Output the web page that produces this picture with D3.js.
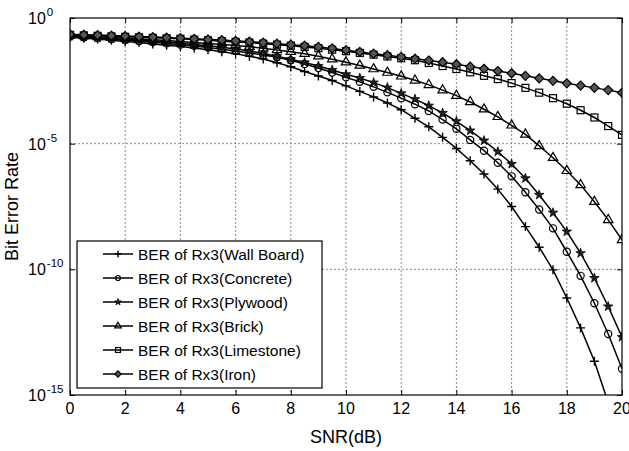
<!DOCTYPE html>
<meta charset="utf-8">
<style>
body { margin: 0; background: #fff; }
svg { font-family: "Liberation Sans", Arial, Helvetica, sans-serif; }
.grid line { stroke: #8a8a8a; stroke-dasharray: 2,2; }
.frame { fill: none; stroke: #000; stroke-width: 1.2; }
.series path.line { fill: none; stroke: #000; stroke-width: 1.5; }
</style>
<svg width="629" height="451"></svg>
<script src="https://d3js.org/d3.v7.min.js"></script>
<script>

// SNR in dB, one marker every 0.5 dB
var snr = [0, 0.5, 1, 1.5, 2, 2.5, 3, 3.5, 4, 4.5, 5, 5.5, 6, 6.5, 7, 7.5, 8, 8.5, 9, 9.5,
           10, 10.5, 11, 11.5, 12, 12.5, 13, 13.5, 14, 14.5, 15, 15.5, 16, 16.5, 17, 17.5, 18, 18.5, 19, 19.5, 20];

var wallBoard = [1.70e-1, 1.58e-1, 1.45e-1, 1.29e-1, 1.15e-1, 1.05e-1, 9.33e-2, 8.32e-2, 7.41e-2, 6.46e-2,
                 5.50e-2, 4.57e-2, 3.80e-2, 3.02e-2, 2.34e-2, 1.66e-2, 1.15e-2, 7.41e-3, 4.90e-3, 3.24e-3,
                 2.00e-3, 1.20e-3, 7.24e-4, 4.17e-4, 2.24e-4, 1.02e-4, 4.68e-5, 1.78e-5, 6.46e-6, 2.09e-6,
                 6.17e-7, 1.55e-7, 3.16e-8, 5.01e-9, 7.59e-10, 9.55e-11, 7.24e-12, 4.68e-13, 2.19e-14, 5.01e-16, 1.00e-17];

var concrete = [1.82e-1, 1.70e-1, 1.58e-1, 1.45e-1, 1.32e-1, 1.20e-1, 1.10e-1, 9.77e-2, 8.71e-2, 7.76e-2,
                6.76e-2, 5.75e-2, 4.90e-2, 4.07e-2, 3.39e-2, 2.75e-2, 2.09e-2, 1.48e-2, 1.02e-2, 6.76e-3,
                4.37e-3, 2.88e-3, 1.82e-3, 1.10e-3, 6.46e-4, 3.72e-4, 2.00e-4, 9.12e-5, 3.89e-5, 1.41e-5,
                5.25e-6, 1.74e-6, 5.01e-7, 1.17e-7, 2.40e-8, 4.27e-9, 5.01e-10, 5.50e-11, 4.47e-12, 2.69e-13, 1.10e-14];

var plywood = [1.91e-1, 1.78e-1, 1.66e-1, 1.55e-1, 1.41e-1, 1.32e-1, 1.20e-1, 1.10e-1, 1.00e-1, 8.91e-2,
               7.94e-2, 6.92e-2, 5.89e-2, 4.90e-2, 3.89e-2, 3.02e-2, 2.29e-2, 1.70e-2, 1.23e-2, 8.51e-3,
               5.75e-3, 4.07e-3, 2.69e-3, 1.70e-3, 1.00e-3, 5.89e-4, 3.24e-4, 1.66e-4, 7.76e-5, 3.31e-5,
               1.32e-5, 4.79e-6, 1.55e-6, 4.17e-7, 9.12e-8, 1.78e-8, 3.16e-9, 4.37e-10, 4.47e-11, 3.31e-12, 2.00e-13];

var brick = [2.00e-1, 1.91e-1, 1.78e-1, 1.66e-1, 1.55e-1, 1.45e-1, 1.35e-1, 1.26e-1, 1.17e-1, 1.07e-1,
             9.77e-2, 8.91e-2, 8.13e-2, 7.24e-2, 6.31e-2, 5.37e-2, 4.57e-2, 3.80e-2, 3.02e-2, 2.29e-2,
             1.74e-2, 1.29e-2, 9.33e-3, 6.76e-3, 4.79e-3, 3.31e-3, 2.19e-3, 1.35e-3, 8.13e-4, 4.57e-4,
             2.34e-4, 1.17e-4, 5.37e-5, 2.34e-5, 8.13e-6, 2.75e-6, 8.32e-7, 2.29e-7, 4.90e-8, 9.33e-9, 1.48e-9];

var limestone = [2.14e-1, 2.04e-1, 1.95e-1, 1.86e-1, 1.78e-1, 1.70e-1, 1.62e-1, 1.55e-1, 1.48e-1, 1.38e-1,
                 1.29e-1, 1.20e-1, 1.12e-1, 1.05e-1, 9.55e-2, 8.71e-2, 7.94e-2, 7.08e-2, 6.31e-2, 5.50e-2,
                 4.79e-2, 4.07e-2, 3.47e-2, 2.95e-2, 2.51e-2, 2.09e-2, 1.62e-2, 1.23e-2, 9.33e-3, 6.92e-3,
                 5.01e-3, 3.72e-3, 2.57e-3, 1.66e-3, 1.07e-3, 6.46e-4, 3.89e-4, 2.14e-4, 1.10e-4, 5.01e-5, 2.24e-5];

var iron = [2.24e-1, 2.14e-1, 2.09e-1, 2.00e-1, 1.91e-1, 1.82e-1, 1.74e-1, 1.66e-1, 1.58e-1, 1.48e-1,
            1.41e-1, 1.32e-1, 1.23e-1, 1.15e-1, 1.05e-1, 9.55e-2, 8.71e-2, 7.94e-2, 7.08e-2, 6.17e-2,
            5.25e-2, 4.47e-2, 3.80e-2, 3.31e-2, 2.82e-2, 2.40e-2, 2.04e-2, 1.74e-2, 1.45e-2, 1.17e-2,
            9.55e-3, 7.76e-3, 6.31e-3, 5.01e-3, 3.98e-3, 3.16e-3, 2.51e-3, 2.04e-3, 1.66e-3, 1.35e-3, 1.07e-3];

var seriesNames = ["BER of Rx3(Wall Board)", "BER of Rx3(Concrete)", "BER of Rx3(Plywood)",
                   "BER of Rx3(Brick)", "BER of Rx3(Limestone)", "BER of Rx3(Iron)"];
var seriesMarkers = ["plus", "circle", "star", "triangle", "square", "diamond"];
var seriesValues = [wallBoard, concrete, plywood, brick, limestone, iron];

var xTicks = [0, 2, 4, 6, 8, 10, 12, 14, 16, 18, 20];
var yTicks = [1, 1e-5, 1e-10, 1e-15];
var yTickExp = ["0", "-5", "-10", "-15"];

var svg = d3.select("svg"),
    margin = {top: 18, right: 7, bottom: 56, left: 70},
    width = +svg.attr("width"),
    height = +svg.attr("height");

var x = d3.scaleLinear()
    .domain([0, 20])
    .range([margin.left, width - margin.right]);

var y = d3.scaleLog()
    .domain([1e-15, 1])
    .range([height - margin.bottom, margin.top]);

var series = seriesNames.map(function(name, i) {
  return {
    name: name,
    marker: seriesMarkers[i],
    points: snr.map(function(s, j) { return {snr: s, ber: seriesValues[i][j]}; })
  };
});

svg.append("defs").append("clipPath")
    .attr("id", "plot-clip")
  .append("rect")
    .attr("x", x(0))
    .attr("y", y(1))
    .attr("width", x(20) - x(0))
    .attr("height", y(1e-15) - y(1));

// grid
var grid = svg.append("g").attr("class", "grid");
grid.selectAll(".gx")
  .data(xTicks.slice(1, -1))
  .enter().append("line")
    .attr("x1", function(d) { return x(d); })
    .attr("x2", function(d) { return x(d); })
    .attr("y1", y(1))
    .attr("y2", y(1e-15));
grid.selectAll(".gy")
  .data(yTicks.slice(1, -1))
  .enter().append("line")
    .attr("x1", x(0))
    .attr("x2", x(20))
    .attr("y1", function(d) { return y(d); })
    .attr("y2", function(d) { return y(d); });

// inward ticks on all four sides, labels drawn separately
function noLabels(g) { g.selectAll("text").remove(); g.select(".domain").remove(); }

svg.append("g")
    .attr("transform", "translate(0," + y(1e-15) + ")")
    .call(d3.axisBottom(x).tickValues(xTicks).tickSize(-5))
    .call(noLabels);
svg.append("g")
    .attr("transform", "translate(0," + y(1) + ")")
    .call(d3.axisTop(x).tickValues(xTicks).tickSize(-5))
    .call(noLabels);
svg.append("g")
    .attr("transform", "translate(" + x(0) + ",0)")
    .call(d3.axisLeft(y).tickValues(yTicks).tickSize(-5))
    .call(noLabels);
svg.append("g")
    .attr("transform", "translate(" + x(20) + ",0)")
    .call(d3.axisRight(y).tickValues(yTicks).tickSize(-5))
    .call(noLabels);

// markers
function drawMarker(sel, type, k) {
  var s = k || 1;
  if (type === "plus") {
    sel.append("path").attr("d", "M" + (-4.5 * s) + ",0H" + (4.5 * s) + "M0," + (-4.5 * s) + "V" + (4.5 * s))
      .attr("stroke", "#000").attr("stroke-width", 1.4).attr("fill", "none");
  } else if (type === "circle") {
    sel.append("circle").attr("r", 3.6 * s)
      .attr("stroke", "#000").attr("stroke-width", 1.2).attr("fill", "none");
  } else if (type === "star") {
    sel.append("path").attr("d", d3.symbol(d3.symbolStar, 28 * s * s)())
      .attr("stroke", "#000").attr("stroke-width", 0.8).attr("fill", "#222");
  } else if (type === "triangle") {
    sel.append("path").attr("d", d3.symbol(d3.symbolTriangle, 38 * s * s)())
      .attr("stroke", "#000").attr("stroke-width", 1.2).attr("fill", "none");
  } else if (type === "square") {
    sel.append("rect").attr("x", -3.5 * s).attr("y", -3.5 * s).attr("width", 7 * s).attr("height", 7 * s)
      .attr("stroke", "#000").attr("stroke-width", 1.2).attr("fill", "none");
  } else if (type === "diamond") {
    var r = 4.5 * s;
    sel.append("path").attr("d", "M0," + (-r) + "L" + r + ",0L0," + r + "L" + (-r) + ",0Z")
      .attr("stroke", "#000").attr("stroke-width", 1.2).attr("fill", "#555");
  }
}

var line = d3.line()
    .x(function(d) { return x(d.snr); })
    .y(function(d) { return y(d.ber); });

var plot = svg.append("g").attr("clip-path", "url(#plot-clip)");

var sg = plot.selectAll(".series")
  .data(series)
  .enter().append("g")
    .attr("class", "series");

sg.append("path")
    .attr("class", "line")
    .attr("d", function(d) { return line(d.points); });

sg.each(function(s) {
  d3.select(this).selectAll(".pt")
    .data(s.points)
    .enter().append("g")
      .attr("class", "pt")
      .attr("transform", function(d) { return "translate(" + x(d.snr) + "," + y(d.ber) + ")"; })
      .each(function() { drawMarker(d3.select(this), s.marker); });
});

// frame
svg.append("rect")
    .attr("class", "frame")
    .attr("x", x(0))
    .attr("y", y(1))
    .attr("width", x(20) - x(0))
    .attr("height", y(1e-15) - y(1));

// x tick labels
svg.append("g").selectAll("text")
  .data(xTicks)
  .enter().append("text")
    .attr("x", function(d) { return x(d); })
    .attr("y", y(1e-15) + 19)
    .attr("text-anchor", "middle")
    .attr("font-size", 16)
    .text(function(d) { return d; });

// y tick labels, 10 with superscript exponent
var yl = svg.append("g").selectAll("text")
  .data(yTicks)
  .enter().append("text")
    .attr("x", 28)
    .attr("y", function(d) { return y(d) + 6; })
    .attr("font-size", 16);
yl.append("tspan").text("10");
yl.append("tspan")
    .attr("dy", -8)
    .attr("dx", 1)
    .attr("font-size", 11.5)
    .text(function(d, i) { return yTickExp[i]; });

// axis titles
svg.append("text")
    .attr("x", x(10))
    .attr("y", 443)
    .attr("text-anchor", "middle")
    .attr("font-size", 18)
    .text("SNR(dB)");

svg.append("text")
    .attr("transform", "translate(18," + ((y(1) + y(1e-15)) / 2) + ") rotate(-90)")
    .attr("text-anchor", "middle")
    .attr("font-size", 18)
    .text("Bit Error Rate");

// legend
var legend = svg.append("g")
    .attr("transform", "translate(77,241)");

legend.append("rect")
    .attr("width", 245)
    .attr("height", 147)
    .attr("fill", "#fff")
    .attr("stroke", "#000")
    .attr("stroke-width", 1.2);

var item = legend.selectAll(".item")
  .data(series)
  .enter().append("g")
    .attr("class", "item")
    .attr("transform", function(d, i) { return "translate(0," + (13 + i * 24) + ")"; });

item.append("line")
    .attr("x1", 26)
    .attr("x2", 56)
    .attr("stroke", "#000")
    .attr("stroke-width", 1.5);

item.append("g")
    .attr("transform", "translate(41,0)")
    .each(function(d) { drawMarker(d3.select(this), d.marker, 0.7); });

item.append("text")
    .attr("x", 61)
    .attr("y", 5.5)
    .attr("font-size", 15.5)
    .text(function(d) { return d.name; });

</script>
